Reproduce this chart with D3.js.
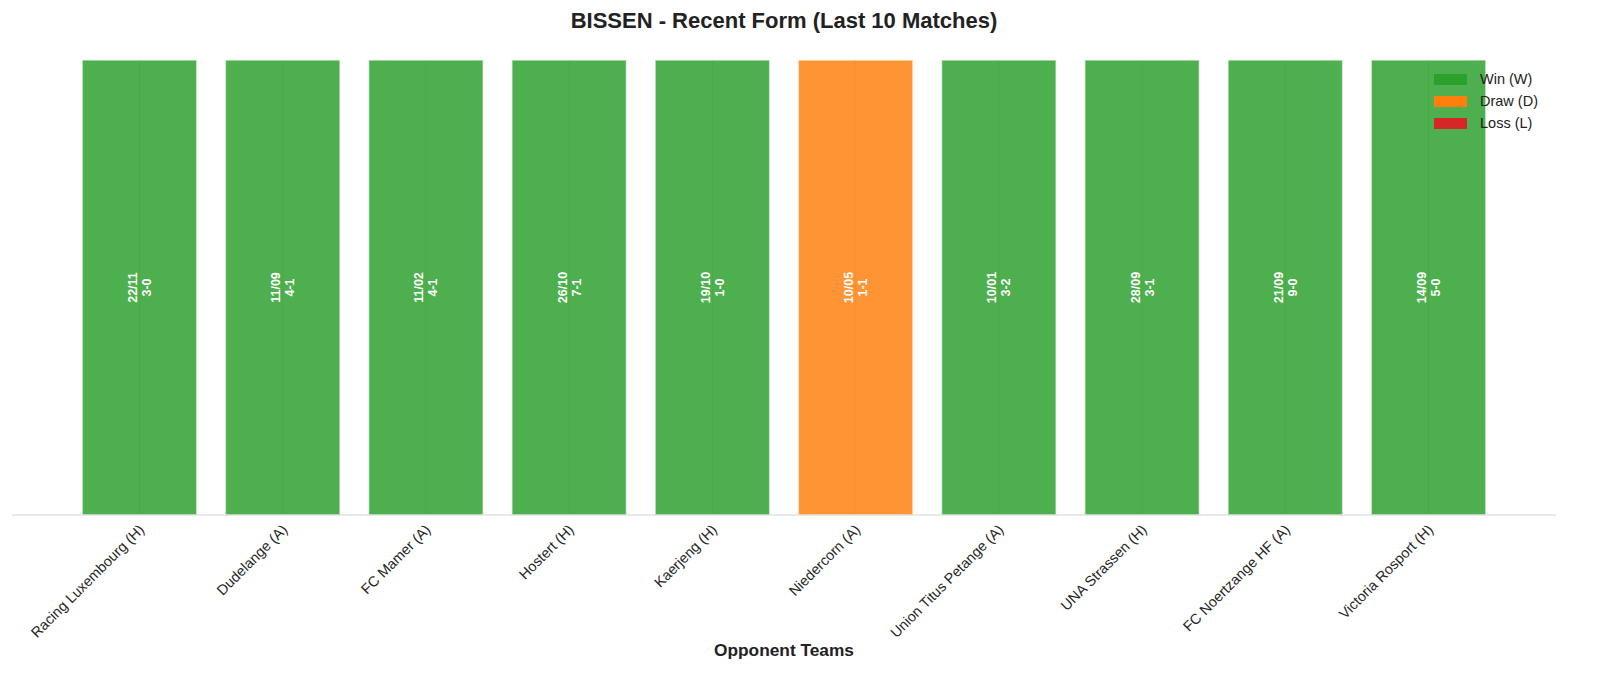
<!DOCTYPE html>
<html>
<head>
<meta charset="utf-8">
<script src="https://cdn.jsdelivr.net/npm/d3@7"></script>
<style>
  body { margin: 0; background: #fff; }
  svg { font-family: "Liberation Sans", Arial, sans-serif; }
</style>
</head>
<body>
<div class="canvas"></div>
<script>
const opponents = ['Racing Luxembourg (H)', 'Dudelange (A)', 'FC Mamer (A)', 'Hostert (H)', 'Kaerjeng (H)',
  'Niedercorn (A)', 'Union Titus Petange (A)', 'UNA Strassen (H)', 'FC Noertzange HF (A)', 'Victoria Rosport (H)']
const dates = ['22/11', '11/09', '11/02', '26/10', '19/10', '10/05', '10/01', '28/09', '21/09', '14/09']
const scores = ['3-0', '4-1', '4-1', '7-1', '1-0', '1-1', '3-2', '3-1', '9-0', '5-0']
const results = ['W', 'W', 'W', 'W', 'W', 'D', 'W', 'W', 'W', 'W']
const legendItems = [['W', 'Win (W)'], ['D', 'Draw (D)'], ['L', 'Loss (L)']]

const colors = { W: '#2ca02c', D: '#ff7f0e', L: '#d62728' }

const width = 1600, height = 685
const svg = d3.select('.canvas').append('svg')
  .attr('width', width)
  .attr('height', height)

const plotL = 12, plotR = 1556, plotT = 60, plotB = 515

// bar index scale, with matplotlib-like margins
const x = d3.scaleLinear().domain([-0.89, opponents.length - 1 + 0.89]).range([plotL, plotR])
const y = d3.scaleLinear().domain([0, 1]).range([plotB, plotT])
const barW = x(0.8) - x(0)

// vertical grid at ticks (only shows through the bars)
svg.append('g').selectAll('line')
  .data(opponents)
  .join('line')
  .attr('x1', (d, i) => x(i)).attr('x2', (d, i) => x(i))
  .attr('y1', plotT).attr('y2', plotB)
  .attr('stroke', '#d9d9d9')
  .attr('stroke-width', 1)

svg.append('g').selectAll('rect')
  .data(results)
  .join('rect')
  .attr('x', (d, i) => x(i) - barW / 2)
  .attr('y', y(1))
  .attr('width', barW)
  .attr('height', y(0) - y(1))
  .attr('fill', d => colors[d])
  .attr('fill-opacity', 0.84)
  .attr('stroke', '#fff')
  .attr('stroke-opacity', 0.6)
  .attr('stroke-width', 1.5)

// bottom spine
svg.append('line')
  .attr('x1', plotL).attr('x2', plotR)
  .attr('y1', plotB).attr('y2', plotB)
  .attr('stroke', '#d6d6d6')
  .attr('stroke-width', 1.2)

// date / score labels inside bars
const mid = y(0.5)
const lbl = svg.append('g').selectAll('text')
  .data(dates)
  .join('text')
  .attr('transform', (d, i) => `translate(${x(i)},${mid}) rotate(-90)`)
  .attr('text-anchor', 'middle')
  .attr('fill', '#fff')
  .attr('font-weight', 'bold')
  .attr('font-size', 12.5)
lbl.append('tspan').attr('x', 0).attr('dy', -2.5).text(d => d)
lbl.append('tspan').attr('x', 0).attr('dy', 14).text((d, i) => scores[i])

// tick labels
svg.append('g').selectAll('text')
  .data(opponents)
  .join('text')
  .attr('transform', (d, i) => `translate(${x(i) + 2},${plotB + 12}) rotate(-45)`)
  .attr('text-anchor', 'end')
  .attr('dy', '0.35em')
  .attr('fill', '#262626')
  .attr('font-size', 14.4)
  .text(d => d)

svg.append('text')
  .attr('x', (plotL + plotR) / 2).attr('y', 656)
  .attr('text-anchor', 'middle')
  .attr('font-weight', 'bold')
  .attr('font-size', 17.3)
  .attr('fill', '#222')
  .text('Opponent Teams')

svg.append('text')
  .attr('x', (plotL + plotR) / 2).attr('y', 28)
  .attr('text-anchor', 'middle')
  .attr('font-weight', 'bold')
  .attr('font-size', 22)
  .attr('fill', '#222')
  .text('BISSEN - Recent Form (Last 10 Matches)')

// legend
const leg = svg.append('g').attr('transform', 'translate(1434,79)')
leg.selectAll('rect')
  .data(legendItems)
  .join('rect')
  .attr('x', 0).attr('y', (d, i) => i * 22 - 5)
  .attr('width', 33).attr('height', 11)
  .attr('fill', d => colors[d[0]])
leg.selectAll('text')
  .data(legendItems)
  .join('text')
  .attr('x', 46).attr('y', (d, i) => i * 22)
  .attr('dy', '0.35em')
  .attr('font-size', 14.5)
  .attr('fill', '#222')
  .text(d => d[1])
</script>
</body>
</html>
